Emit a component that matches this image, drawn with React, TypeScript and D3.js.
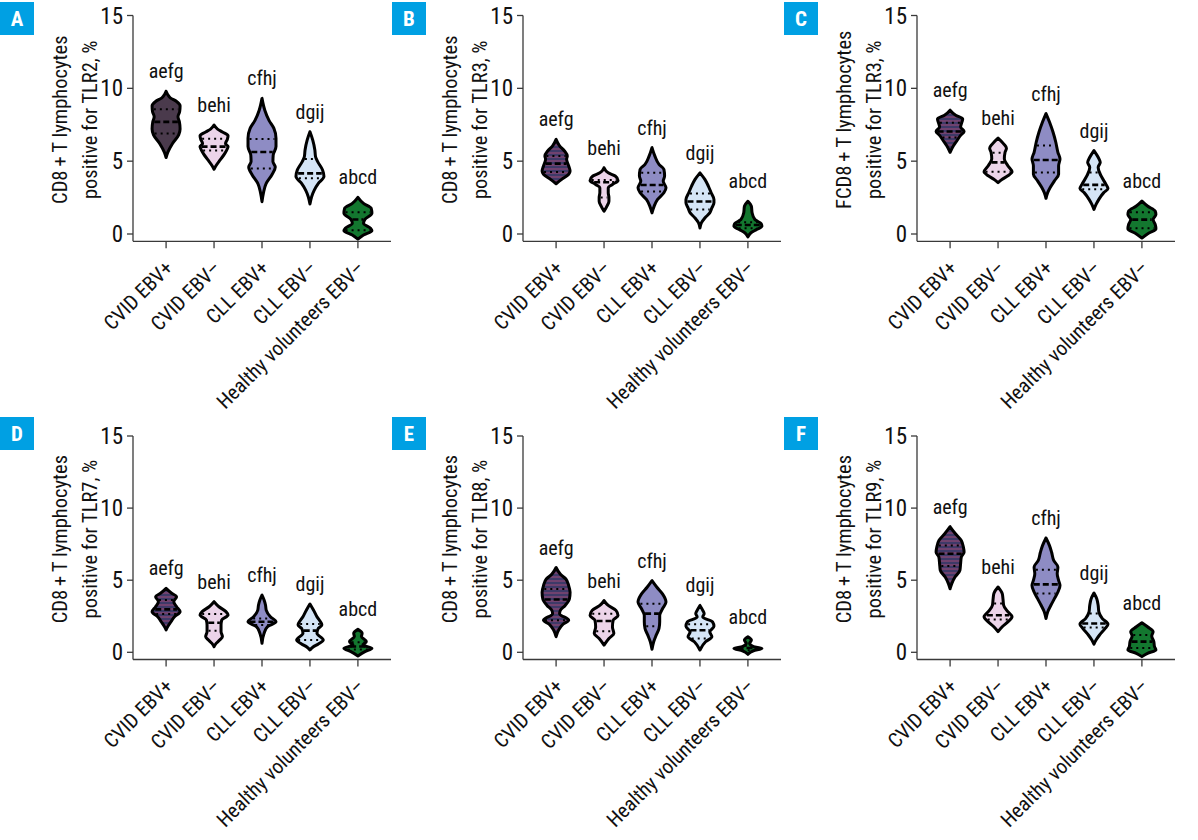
import React from "react";
import * as d3 from "d3";

const W = 1198;
const H = 840;
const FONT = "'Liberation Sans Narrow','Roboto Condensed','DejaVu Sans Condensed','Arial Narrow',sans-serif";

const categories = ["CVID EBV+", "CVID EBV–", "CLL EBV+", "CLL EBV–", "Healthy volunteers EBV–"];
const groupLetters = ["aefg", "behi", "cfhj", "dgij", "abcd"];
const panelLetters = ["A", "B", "C", "D", "E", "F"];
const titleLine1 = ["CD8\u2009+\u2009T lymphocytes", "CD8\u2009+\u2009T lymphocytes", "FCD8\u2009+\u2009T lymphocytes", "CD8\u2009+\u2009T lymphocytes", "CD8\u2009+\u2009T lymphocytes", "CD8\u2009+\u2009T lymphocytes"];
const titleLine2 = ["positive for TLR2, %", "positive for TLR3, %", "positive for TLR3, %", "positive for TLR7, %", "positive for TLR8, %", "positive for TLR9, %"];
const yTicks = [0, 5, 10, 15];
const fillColors = ["#4a3a4c", "#ecd4e9", "#8e8cc4", "#d5e5f6", "#13772f"];

// Violin outlines: [value %, relative half-width]
const violinsA = [
  [[5.25,0],[5.6,0.12],[6.2,0.45],[6.8,0.9],[7.2,1.0],[7.7,0.95],[8.05,0.85],[8.4,0.97],[8.8,1.0],[9.1,0.75],[9.35,0.3],[9.6,0.1],[9.8,0]],
  [[4.45,0],[4.7,0.15],[5.1,0.45],[5.5,0.75],[5.85,0.95],[6.0,1.0],[6.2,0.82],[6.5,0.95],[6.75,1.0],[7.0,0.6],[7.2,0.25],[7.48,0]],
  [[2.22,0],[2.8,0.1],[3.48,0.3],[4.05,0.7],[4.6,0.95],[4.97,0.78],[5.42,0.8],[6.0,1.0],[6.57,1.0],[7.25,0.85],[7.8,0.5],[8.5,0.2],[9.31,0]],
  [[2.06,0],[2.56,0.12],[3.0,0.3],[3.48,0.6],[3.94,1.0],[4.4,0.9],[4.97,0.55],[5.3,0.4],[5.77,0.35],[6.45,0.2],[7.02,0]],
  [[-0.35,0],[-0.07,0.4],[0.23,1.0],[0.39,0.9],[0.73,0.4],[1.0,0.5],[1.42,1.0],[1.76,0.95],[2.1,0.4],[2.52,0]],
];
const mediansA = [7.7, 6.0, 5.63, 4.16, 1.0];
const q1A = [6.9, 5.74, 4.5, 3.82, 0.25];
const q3A = [8.56, 6.54, 6.52, 5.15, 1.5];

const violinsB = [
  [[3.45,0],[3.75,0.4],[4.1,0.9],[4.32,1.0],[4.67,0.9],[5.13,0.75],[5.36,0.8],[5.7,0.6],[6.05,0.25],[6.5,0]],
  [[1.56,0],[1.9,0.2],[2.25,0.35],[2.5,0.35],[2.83,0.3],[3.17,0.3],[3.4,0.6],[3.68,1.0],[3.98,0.8],[4.2,0.3],[4.55,0]],
  [[1.45,0],[1.9,0.15],[2.37,0.4],[2.83,0.85],[3.17,1.0],[3.63,0.8],[3.98,0.9],[4.44,0.85],[4.78,0.5],[5.36,0.2],[5.93,0]],
  [[0.41,0],[0.76,0.1],[1.1,0.35],[1.45,0.7],[1.79,0.85],[2.14,1.0],[2.37,1.0],[2.83,0.8],[3.29,0.6],[3.75,0.35],[4.2,0]],
  [[-0.2,0],[0.07,0.2],[0.3,0.6],[0.53,1.0],[0.71,0.95],[0.99,0.5],[1.45,0.3],[1.9,0.25],[2.25,0]],
];
const mediansB = [4.83, 3.55, 3.36, 2.23, 0.62];
const q1B = [4.25, 2.5, 2.92, 1.68, 0.4];
const q3B = [5.36, 3.7, 4.2, 2.78, 0.8];

const violinsC = [
  [[5.61,0],[6.07,0.25],[6.42,0.5],[6.77,0.75],[7.04,1.0],[7.34,0.75],[7.69,0.85],[7.9,0.9],[8.15,0.4],[8.5,0]],
  [[3.53,0],[3.76,0.3],[4.0,0.7],[4.27,1.0],[4.69,0.7],[5.15,0.45],[5.61,0.5],[5.89,0.6],[6.19,0.4],[6.58,0]],
  [[2.45,0],[2.84,0.12],[3.19,0.3],[3.65,0.6],[4.11,0.9],[4.69,0.9],[5.15,1.0],[5.61,0.85],[6.3,0.7],[7.0,0.5],[7.69,0.25],[8.27,0]],
  [[1.69,0],[2.03,0.15],[2.38,0.35],[2.84,0.7],[3.12,1.0],[3.42,0.85],[4.0,0.5],[4.57,0.3],[4.92,0.45],[5.27,0.3],[5.73,0]],
  [[-0.28,0],[0.07,0.5],[0.35,1.0],[0.65,0.95],[0.99,0.8],[1.34,1.0],[1.57,0.95],[1.92,0.4],[2.26,0]],
];
const mediansC = [7.04, 4.92, 5.08, 3.37, 0.99];
const q1C = [6.63, 4.27, 4.23, 3.07, 0.4];
const q3C = [7.64, 5.57, 6.07, 4.23, 1.5];

const violinsD = [
  [[1.55,0],[1.78,0.12],[2.12,0.35],[2.47,0.6],[2.82,1.0],[3.16,0.75],[3.51,0.55],[3.86,0.75],[4.09,0.4],[4.43,0]],
  [[0.39,0],[0.62,0.15],[0.85,0.4],[1.09,0.6],[1.43,0.5],[1.89,0.5],[2.24,0.55],[2.59,1.0],[2.82,0.85],[3.16,0.35],[3.51,0]],
  [[0.62,0],[1.32,0.15],[1.78,0.4],[2.12,1.0],[2.47,0.6],[2.93,0.3],[3.28,0.25],[3.63,0.15],[3.97,0]],
  [[0.16,0],[0.35,0.2],[0.58,0.6],[0.85,0.95],[1.32,0.5],[1.66,0.6],[1.89,0.85],[2.47,0.5],[2.93,0.25],[3.35,0]],
  [[-0.25,0],[0.05,0.5],[0.28,1.0],[0.51,0.35],[0.74,0.6],[1.09,0.25],[1.32,0.3],[1.59,0]],
];
const mediansD = [2.98, 2.05, 2.12, 1.5, 0.4];
const q1D = [2.66, 1.5, 1.89, 0.85, 0.2];
const q3D = [3.63, 2.66, 2.35, 1.96, 0.7];

const violinsE = [
  [[1.08,0],[1.58,0.2],[1.95,0.5],[2.22,0.9],[2.68,0.25],[2.9,0.3],[3.25,0.65],[3.7,0.95],[4.16,1.0],[4.62,0.9],[5.08,0.7],[5.42,0.3],[5.88,0]],
  [[0.5,0],[0.96,0.35],[1.3,0.7],[1.76,0.6],[2.22,0.65],[2.56,1.0],[2.91,0.85],[3.25,0.3],[3.59,0]],
  [[0.21,0],[0.73,0.12],[1.19,0.3],[1.65,0.5],[2.11,0.55],[2.56,0.55],[3.02,0.75],[3.48,1.0],[4.05,0.75],[4.51,0.35],[4.97,0]],
  [[0.16,0],[0.73,0.4],[1.08,0.85],[1.42,0.7],[1.81,1.0],[2.11,0.9],[2.45,0.2],[2.68,0.3],[2.91,0.2],[3.25,0]],
  [[-0.14,0],[0.11,0.4],[0.27,1.0],[0.39,0.4],[0.62,0.12],[0.85,0.25],[1.08,0]],
];
const mediansE = [3.66, 2.17, 2.68, 1.53, 0.3];
const q1E = [2.22, 1.46, 1.81, 0.96, 0.15];
const q3E = [4.39, 2.68, 3.36, 1.95, 0.45];

const violinsF = [
  [[4.41,0],[4.76,0.12],[5.22,0.35],[5.68,0.7],[6.14,0.75],[6.6,0.8],[6.94,1.0],[7.29,0.95],[7.75,0.8],[8.2,0.4],[8.71,0]],
  [[1.43,0],[1.77,0.3],[2.11,0.7],[2.46,1.0],[2.87,0.65],[3.26,0.4],[3.72,0.35],[4.07,0.3],[4.53,0]],
  [[2.34,0],[2.8,0.12],[3.26,0.35],[3.72,0.6],[4.18,0.85],[4.64,1.0],[4.99,0.9],[5.45,0.8],[5.91,0.85],[6.37,0.55],[6.94,0.4],[7.4,0.25],[7.93,0]],
  [[0.57,0],[0.85,0.15],[1.2,0.4],[1.66,0.8],[1.95,1.0],[2.34,0.6],[2.8,0.35],[3.26,0.3],[3.72,0.2],[4.11,0]],
  [[-0.3,0],[-0.07,0.4],[0.16,1.0],[0.39,0.9],[0.74,0.85],[1.13,0.7],[1.43,0.8],[1.77,0.4],[2.05,0]],
];
const mediansF = [6.83, 2.57, 4.71, 2.0, 0.74];
const q1F = [5.98, 2.28, 4.07, 1.72, 0.3];
const q3F = [7.4, 3.38, 5.72, 2.69, 1.2];

const panels = [
  { violins: violinsA, medians: mediansA, q1: q1A, q3: q3A },
  { violins: violinsB, medians: mediansB, q1: q1B, q3: q3B },
  { violins: violinsC, medians: mediansC, q1: q1C, q3: q3C },
  { violins: violinsD, medians: mediansD, q1: q1D, q3: q3D },
  { violins: violinsE, medians: mediansE, q1: q1E, q3: q3E },
  { violins: violinsF, medians: mediansF, q1: q1F, q3: q3F },
];

const colAxisX = [133, 523, 917];
const rowGeom = [
  { top: 15.5, zero: 234 },
  { top: 436, zero: 652.3 },
];
const boxX = [0, 392, 784];
const boxY = [2, 417];

function widthAt(profile: number[][], v: number) {
  const vals = profile.map((p) => p[0]);
  const ws = profile.map((p) => p[1]);
  const s = d3.scaleLinear().domain(vals).range(ws).clamp(true);
  return s(v);
}

function Panel({ idx }: { idx: number }) {
  const col = idx % 3;
  const row = Math.floor(idx / 3);
  const ax = colAxisX[col];
  const g = rowGeom[row];
  const y = d3.scaleLinear().domain([0, 15]).range([g.zero, g.top]);
  const x = d3.scalePoint<string>().domain(categories).range([ax, ax + 258]).padding(0.69);
  const w = d3.scaleLinear().domain([0, 1]).range([0, 14]);
  const baseY = y(-0.5);
  const p = panels[idx];

  return (
    <g>
      <rect x={boxX[col]} y={boxY[row]} width={34} height={33} fill="#00a0e3" />
      <text x={boxX[col] + 17} y={boxY[row] + 24} textAnchor="middle" fill="#fff" fontFamily={FONT} fontWeight="bold" fontSize={21}>
        {panelLetters[idx]}
      </text>
      {/* y axis */}
      <line x1={ax} x2={ax} y1={y(15)} y2={baseY} stroke="#3a3a3a" strokeWidth={1.3} />
      {yTicks.map((t) => (
        <g key={t}>
          <line x1={ax - 6} x2={ax} y1={y(t)} y2={y(t)} stroke="#3a3a3a" strokeWidth={1.3} />
          <text x={ax - 10} y={y(t) + 8} textAnchor="end" fontFamily={FONT} fontSize={23} fill="#111">
            {t}
          </text>
        </g>
      ))}
      {/* x axis */}
      <line x1={ax} x2={ax + 258} y1={baseY} y2={baseY} stroke="#3a3a3a" strokeWidth={1.3} />
      {categories.map((c) => (
        <g key={c}>
          <line x1={x(c)} x2={x(c)} y1={baseY} y2={baseY + 7} stroke="#3a3a3a" strokeWidth={1.3} />
          <text
            transform={`translate(${(x(c) as number) + 8},${baseY + 28}) rotate(-45)`}
            textAnchor="end"
            fontFamily={FONT}
            fontSize={20.5}
            fill="#111"
          >
            {c}
          </text>
        </g>
      ))}
      {/* y title */}
      <text
        transform={`translate(${ax - 66},${y(7.5) - 5}) rotate(-90)`}
        textAnchor="middle"
        fontFamily={FONT}
        fontSize={20.5}
        fill="#111"
      >
        {titleLine1[idx]}
      </text>
      <text
        transform={`translate(${ax - 36},${y(7.5) - 5}) rotate(-90)`}
        textAnchor="middle"
        fontFamily={FONT}
        fontSize={20.5}
        fill="#111"
      >
        {titleLine2[idx]}
      </text>
      {/* violins */}
      {categories.map((c, i) => {
        const cx = x(c) as number;
        const prof = p.violins[i];
        const area = d3
          .area<number[]>()
          .y((d) => y(d[0]))
          .x0((d) => cx - w(d[1]))
          .x1((d) => cx + w(d[1]))
          .curve(d3.curveMonotoneY);
        const top = prof[prof.length - 1][0];
        const fill = i === 0 && idx > 0 ? "url(#stripes)" : fillColors[i];
        const hl = (v: number) => Math.max(0, w(widthAt(prof, v)) - 1.5);
        return (
          <g key={c}>
            <path d={area(prof) as string} fill={fill} stroke="#000" strokeWidth={3} strokeLinejoin="round" />
            {[p.q1[i], p.q3[i]].map((q, k) => (
              <line key={k} x1={cx - hl(q)} x2={cx + hl(q)} y1={y(q)} y2={y(q)} stroke="#000" strokeWidth={2} strokeDasharray="2,4" />
            ))}
            <line
              x1={cx - hl(p.medians[i])}
              x2={cx + hl(p.medians[i])}
              y1={y(p.medians[i])}
              y2={y(p.medians[i])}
              stroke="#000"
              strokeWidth={2.6}
              strokeDasharray="6,3"
            />
            <text x={cx} y={y(top) - 13} textAnchor="middle" fontFamily={FONT} fontSize={20} fill="#111">
              {groupLetters[i]}
            </text>
          </g>
        );
      })}
    </g>
  );
}

export default function App() {
  return (
    <svg width={W} height={H} style={{ position: "absolute", left: 0, top: 0, background: "#fff" }}>
      <defs>
        <pattern id="stripes" patternUnits="userSpaceOnUse" width={6} height={4}>
          <rect width={6} height={4} fill="#3e3a68" />
          <line x1={0} x2={6} y1={1} y2={1} stroke="#a24a76" strokeWidth={1} />
        </pattern>
      </defs>
      <rect width={W} height={H} fill="#fff" />
      {panelLetters.map((_, i) => (
        <Panel key={i} idx={i} />
      ))}
    </svg>
  );
}
